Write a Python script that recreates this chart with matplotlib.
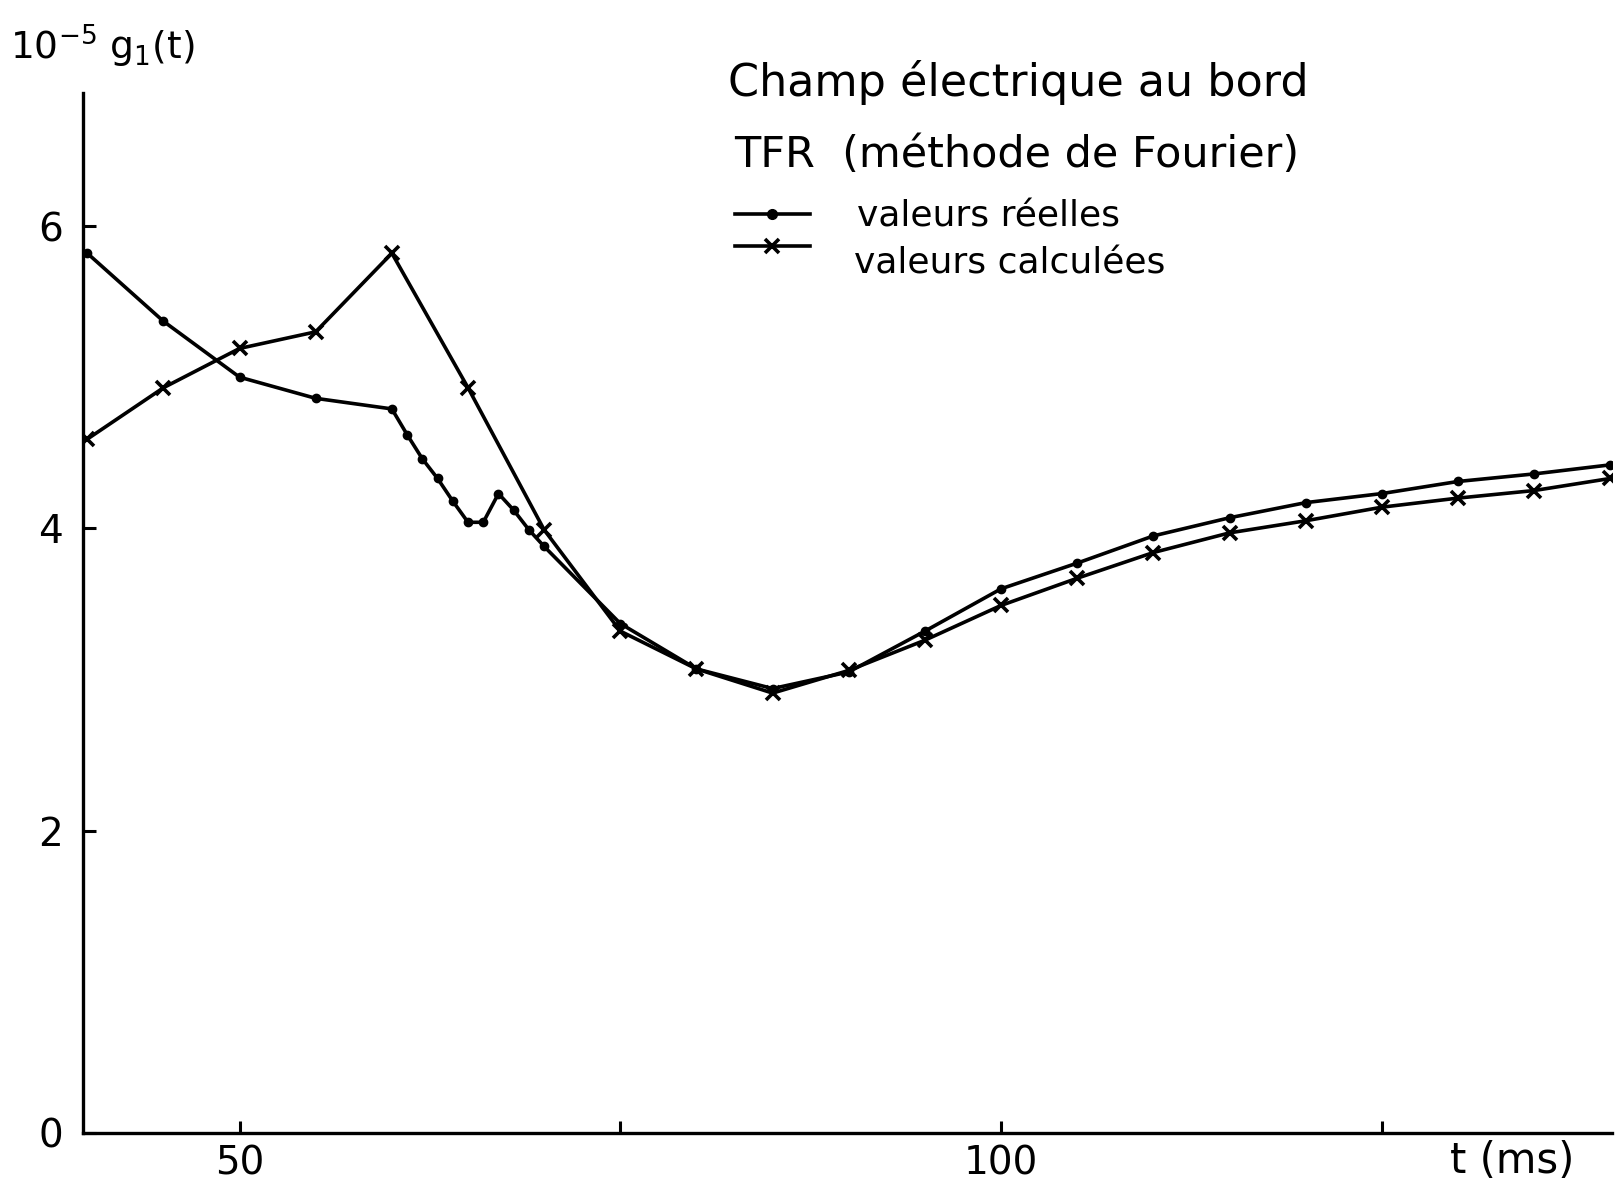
import matplotlib
matplotlib.use('Agg')
import matplotlib.pyplot as plt
from matplotlib.lines import Line2D

# Champ électrique au bord - TFR, valeurs réelles et calculées
t_reel = [40, 45, 50, 55, 60, 61, 62, 63, 64, 65, 66, 67, 68, 69, 70,
          75, 80, 85, 90, 95, 100, 105, 110, 115, 120, 125, 130, 135, 140]
g_reel = [5.82, 5.37, 5.00, 4.86, 4.79, 4.62, 4.46, 4.33, 4.18, 4.04, 4.04,
          4.23, 4.12, 3.99, 3.88, 3.37, 3.07, 2.94, 3.05, 3.32, 3.60, 3.77,
          3.95, 4.07, 4.17, 4.23, 4.31, 4.36, 4.42]

t_calc = [40, 45, 50, 55, 60, 65, 70, 75, 80, 85, 90, 95, 100, 105, 110,
          115, 120, 125, 130, 135, 140]
g_calc = [4.59, 4.93, 5.19, 5.30, 5.82, 4.93, 3.99, 3.32, 3.07, 2.91, 3.06,
          3.26, 3.49, 3.67, 3.84, 3.97, 4.05, 4.14, 4.20, 4.25, 4.33]

x_ticks = [50, 75, 100, 125]
x_labels = ['50', '', '100', '']
y_ticks = [0, 2, 4, 6]
y_labels = ['0', '2', '4', '6']

plt.rcParams['font.family'] = ['DejaVu Sans']
plt.rcParams['mathtext.default'] = 'regular'

fig = plt.figure(figsize=(16.18, 11.92), dpi=100)
ax = fig.add_axes([0.0511, 0.0495, 0.9451, 0.8725])

ax.plot(t_reel, g_reel, color='black', lw=2.6, marker='o', ms=6)
ax.plot(t_calc, g_calc, color='black', lw=2.6, marker='x', ms=10, mew=2.6)

ax.set_xlim(39.7, 140.1)
ax.set_ylim(0, 6.88)
ax.spines['top'].set_visible(False)
ax.spines['right'].set_visible(False)
ax.spines['left'].set_linewidth(2.4)
ax.spines['bottom'].set_linewidth(2.4)

ax.set_xticks(x_ticks)
ax.set_xticklabels(x_labels, fontsize=28)
ax.set_yticks(y_ticks)
ax.set_yticklabels(y_labels, fontsize=28)
ax.tick_params(axis='both', direction='in', length=9, width=2.2)
ax.tick_params(axis='x', pad=8)
ax.tick_params(axis='y', pad=14)

fig.text(0.0064, 0.961, r'10$^{-5}$ g$_{1}$(t)', fontsize=27, va='center')
fig.text(0.896, 0.026, 't (ms)', fontsize=30, va='center')

fig.text(0.4497, 0.9307, 'Champ électrique au bord', fontsize=32, va='center')
fig.text(0.454, 0.870, 'TFR  (méthode de Fourier)', fontsize=31, va='center')

# légende dessinée à la main : trait avec le symbole au milieu
leg_x = [0.454, 0.477, 0.5006]
fig.add_artist(Line2D(leg_x, [0.8208] * 3, color='black', lw=2.6,
                      marker='o', ms=7, markevery=[1],
                      transform=fig.transFigure))
fig.add_artist(Line2D(leg_x, [0.794] * 3, color='black', lw=2.6,
                      marker='x', ms=10, mew=2.6, markevery=[1],
                      transform=fig.transFigure))
fig.text(0.5294, 0.818, 'valeurs réelles', fontsize=26, va='center')
fig.text(0.528, 0.779, 'valeurs calculées', fontsize=26, va='center')

fig.savefig('out.png', dpi=100)
